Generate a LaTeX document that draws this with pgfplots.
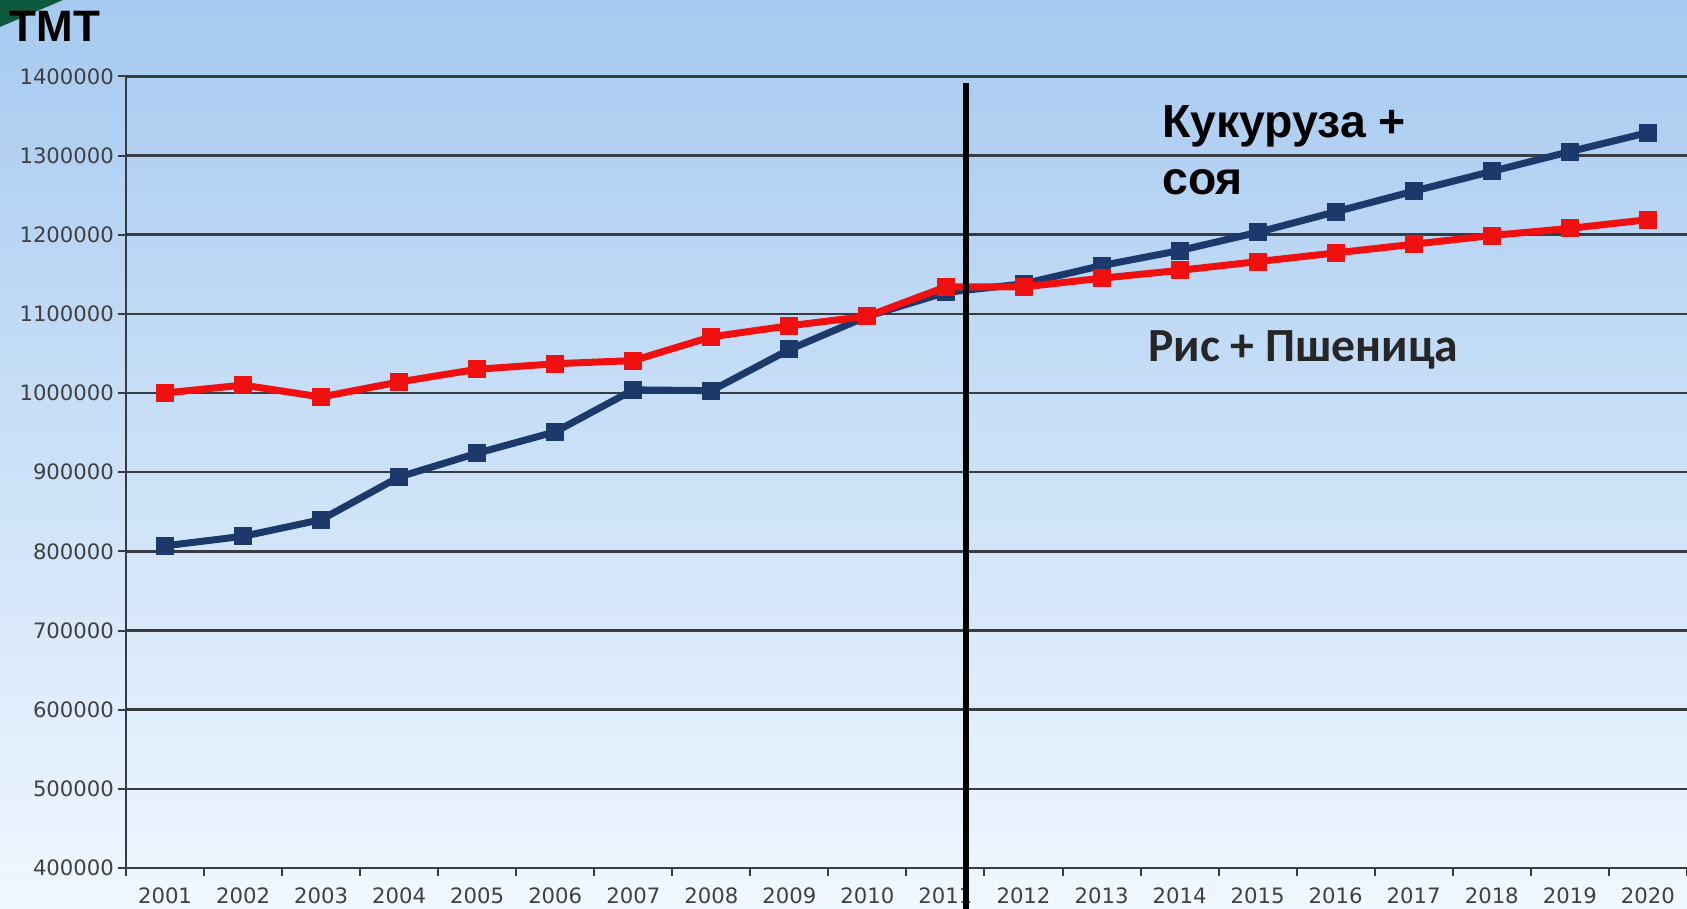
\documentclass[border=0pt]{standalone}
\usepackage{fontspec}
\usepackage{pgfplots}
\pgfplotsset{compat=1.18}
\newfontfamily\dejavu{DejaVu Sans}
\newfontfamily\libsans{Liberation Sans}
\newfontfamily\carlito{Carlito}
\definecolor{bgtop}{RGB}{166,202,240}
\definecolor{bgmid}{RGB}{184,219,251}
\definecolor{bgbot}{RGB}{240,247,255}
\definecolor{navy}{RGB}{27,58,107}
\definecolor{redl}{RGB}{240,16,16}
\definecolor{gridc}{RGB}{55,60,66}
\definecolor{greenw}{RGB}{14,90,63}
\begin{document}
\begin{tikzpicture}
\useasboundingbox (0,0) rectangle (843.5pt,454.5pt);
\shade[top color=bgtop, middle color=bgmid, bottom color=bgbot] (0,0) rectangle (843.5pt,454.5pt);
\fill[greenw] (0,454.5pt) -- (31.5pt,454.5pt) -- (0,441pt) -- cycle;
\begin{axis}[
  scale only axis,
  width=780.5pt, height=395.8pt,
  at={(63pt,20.5pt)}, anchor=south west,
  xmin=2000.5, xmax=2020.5,
  ymin=400000, ymax=1400000,
  ytick={400000,500000,...,1400000},
  scaled y ticks=false,
  xtick={2000.5,2001.5,...,2020.5},
  xticklabels={},
  extra x ticks={2001,2002,...,2020},
  extra x tick style={major tick length=0pt, grid=none},
  axis x line*=bottom, axis y line*=left,
  axis line style={-, draw=gridc, line width=1.4pt},
  tick align=outside,
  major tick length=4pt,
  tick style={draw=gridc, line width=1pt},
  ymajorgrids,
  grid style={draw=gridc, line width=1.3pt},
  /pgf/number format/assume math mode=true,
  /pgf/number format/1000 sep={},
  /pgf/number format/fixed,
  tick label style={font=\dejavu\fontsize{10.6}{12}\selectfont, text=black!75},
  xticklabel style={yshift=-6.5pt},
  yticklabel style={xshift=1.5pt},
]
\addplot[navy, line width=3.5pt, mark=square*, mark size=4pt, mark options={solid, fill=navy, draw=navy, line width=1pt}]
coordinates {
(2001,807000) (2002,819000) (2003,840000) (2004,894000) (2005,924000)
(2006,951000) (2007,1004000) (2008,1003000) (2009,1055000) (2010,1097000)
(2011,1127000) (2012,1138000) (2013,1161000) (2014,1180000) (2015,1203000)
(2016,1229000) (2017,1255000) (2018,1280000) (2019,1305000) (2020,1329000)
};
\addplot[redl, line width=3.5pt, mark=square*, mark size=4pt, mark options={solid, fill=redl, draw=redl, line width=1pt}]
coordinates {
(2001,1000000) (2002,1010000) (2003,995000) (2004,1014000) (2005,1030000)
(2006,1037000) (2007,1041000) (2008,1071000) (2009,1085000) (2010,1097000)
(2011,1134000) (2012,1134000) (2013,1145000) (2014,1155000) (2015,1166000)
(2016,1177000) (2017,1188000) (2018,1199000) (2019,1208000) (2020,1219000)
};
\coordinate (vtop) at (axis cs:2011.26,1392000);
\end{axis}
\draw[black, line width=3pt] (vtop) -- (vtop |- 0,0);
\node[anchor=center, font=\libsans\bfseries\fontsize{22}{24}\selectfont] at (27.5pt,441.5pt) {TMT};
\node[anchor=base west, inner sep=0pt, font=\libsans\bfseries\fontsize{23.2}{25}\selectfont] at (581pt,385.5pt) {Кукуруза +};
\node[anchor=base west, inner sep=0pt, font=\libsans\bfseries\fontsize{23.2}{25}\selectfont] at (581pt,357pt) {соя};
\node[anchor=base west, inner sep=0pt, font=\carlito\bfseries\fontsize{23.8}{26}\selectfont, text=black!85] at (574pt,273.75pt) {Рис + Пшеница};
\end{tikzpicture}
\end{document}
